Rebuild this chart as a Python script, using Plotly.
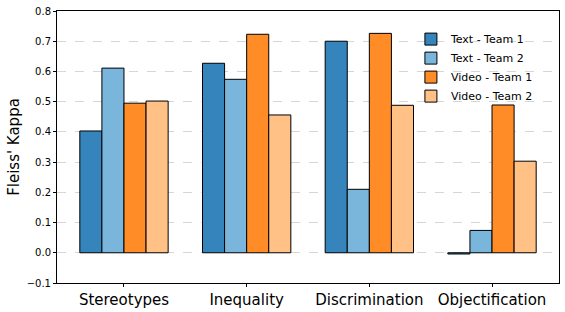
import plotly.graph_objects as go

categories = ["Stereotypes", "Inequality", "Discrimination", "Objectification"]
series_names = ["Text - Team 1", "Text - Team 2", "Video - Team 1", "Video - Team 2"]
text_team1 = [0.403, 0.627, 0.700, -0.004]
text_team2 = [0.611, 0.574, 0.210, 0.074]
video_team1 = [0.495, 0.723, 0.726, 0.489]
video_team2 = [0.502, 0.456, 0.488, 0.303]
y_ticks = [-0.1, 0.0, 0.1, 0.2, 0.3, 0.4, 0.5, 0.6, 0.7, 0.8]

colors = ["#3585bc", "#7ab6db", "#ff8c27", "#ffc186"]
values = [text_team1, text_team2, video_team1, video_team2]

fig = go.Figure()
for name, vals, col in zip(series_names, values, colors):
    fig.add_trace(go.Bar(
        x=list(range(len(categories))), y=vals, name=name,
        marker=dict(color=col, line=dict(color="black", width=1)),
    ))

fig.update_layout(
    width=565, height=312,
    margin=dict(l=57, r=6, t=11, b=29, autoexpand=False),
    paper_bgcolor="white", plot_bgcolor="white",
    barmode="group", bargap=0.28, bargroupgap=0,
    font=dict(family="DejaVu Sans", color="black"),
    showlegend=True,
    legend=dict(x=0.705, y=0.95, xanchor="left", yanchor="top",
                bgcolor="rgba(0,0,0,0)", font=dict(size=11),
                tracegroupgap=0, itemwidth=30),
)
fig.update_xaxes(
    tickmode="array", tickvals=list(range(len(categories))), ticktext=categories,
    range=[-0.546, 3.546], tickfont=dict(size=15), automargin=False,
    showline=True, linecolor="black", linewidth=1, mirror=True,
    ticks="outside", ticklen=3, tickcolor="black", showgrid=False,
)
fig.update_yaxes(
    tickmode="array", tickvals=y_ticks, tickformat=".1f",
    range=[-0.1, 0.8], tickfont=dict(size=10), automargin=False,
    title=dict(text="Fleiss' Kappa", font=dict(size=15), standoff=3),
    showline=True, linecolor="black", linewidth=1, mirror=True,
    ticks="outside", ticklen=3, tickcolor="black",
    showgrid=True, gridcolor="rgba(0,0,0,0.16)", griddash="dash", gridwidth=1,
    zeroline=False,
)

fig.write_html("out.html", config={"displayModeBar": False},
               post_script="document.body.style.margin='0';")
